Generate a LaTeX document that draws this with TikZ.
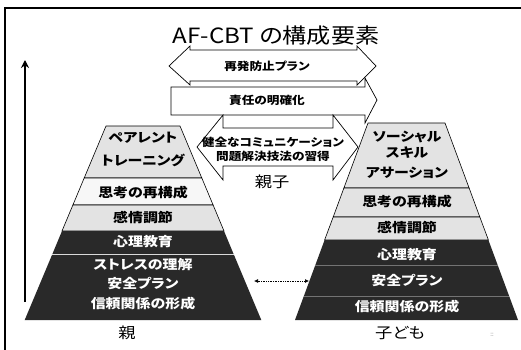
\documentclass[tikz,border=0pt]{standalone}
\usepackage{fontspec}
\setmainfont{Liberation Sans}
\newfontfamily\jp[FakeStretch=1.15,RawFeature={+palt}]{Noto Sans CJK JP}
\usetikzlibrary{arrows.meta}
\begin{document}
\begin{tikzpicture}[x=1pt,y=-1pt,
  frameline/.style={line width=1.2pt},
  arrowshape/.style={draw, fill=white, line width=0.7pt, line join=miter},
  lightlayer/.style={draw, fill=black!11, line width=0.6pt},
  palelayer/.style={draw, fill=black!3, line width=0.6pt},
  darklayer/.style={fill=black!84},
  ptext/.style={font=\jp\bfseries\fontsize{13}{14}\selectfont, text=black, inner sep=0pt},
  pdark/.style={ptext, text=white},
  atext/.style={font=\jp\bfseries\fontsize{11}{12}\selectfont, inner sep=0pt},
  labeltext/.style={font=\jp\fontsize{15}{16}\selectfont, inner sep=0pt}
]
\useasboundingbox (0,0) rectangle (521,350);
\fill[white] (0,0) rectangle (521,350);
% frame
\draw[frameline] (521,8) -- (5,8) -- (5,350);
% vertical arrow
\coordinate (vb) at (25,302);
\coordinate (vt) at (25,60);
\draw[line width=1.8pt, -{Stealth[length=8pt,width=8pt]}] (vb) -- (vt);
% title
\node[font=\jp\fontsize{21}{24}\selectfont, inner sep=0pt] (title) at (276,36) {AF-CBT の構成要素};
% arrows
\draw[arrowshape] (169,66) -- (190,46) -- (190,50) -- (357,50) -- (357,46) -- (376,66) -- (357,85) -- (357,81) -- (190,81) -- (190,85) -- cycle;
\draw[arrowshape] (171,87) -- (365,87) -- (365,78) -- (377,100) -- (365,123) -- (365,115) -- (171,115) -- cycle;
\draw[arrowshape] (197,147) -- (223,115) -- (223,128) -- (333,128) -- (333,115) -- (358,147) -- (333,180) -- (333,166) -- (223,166) -- (223,180) -- cycle;
\node[atext] (t1) at (267,66) {再発防止プラン};
\node[atext] (t2) at (267,100) {責任の明確化};
\node[atext] (t3) at (273,142) {健全なコミュニケーション};
\node[atext] (t4) at (273,156) {問題解決技法の習得};
\node[labeltext] (t5) at (272,182) {親子};
% left pyramid
\filldraw[lightlayer] (106,126) -- (180,126) -- (201.8,178) -- (84.2,178) -- cycle;
\filldraw[palelayer] (84.2,178) -- (201.8,178) -- (213.1,205) -- (72.9,205) -- cycle;
\filldraw[lightlayer] (72.9,205) -- (213.1,205) -- (224,231) -- (62,231) -- cycle;
\fill[darklayer] (62,231) -- (224,231) -- (233.6,254) -- (52.4,254) -- cycle;
\fill[darklayer] (52.4,254) -- (233.6,254) -- (261.3,320) -- (24.7,320) -- cycle;
\draw[black!15, line width=0.8pt] (52.4,254) -- (233.6,254);
\node[ptext] (l1) at (143,138) {ペアレント};
\node[ptext] (l2) at (143,160) {トレーニング};
\node[ptext] (l3) at (143,193) {思考の再構成};
\node[ptext] (l4) at (143,218) {感情調節};
\node[pdark] (l5) at (143,242) {心理教育};
\node[pdark] (l6) at (143,265) {ストレスの理解};
\node[pdark] (l7) at (143,283) {安全プラン};
\node[pdark] (l8) at (143,304) {信頼関係の形成};
% right pyramid
\filldraw[lightlayer] (368,123) -- (445,123) -- (469.1,188) -- (343.9,188) -- cycle;
\filldraw[lightlayer] (343.9,188) -- (469.1,188) -- (479.8,217) -- (333.2,217) -- cycle;
\filldraw[lightlayer] (333.2,217) -- (479.8,217) -- (488.4,240) -- (324.6,240) -- cycle;
\fill[darklayer] (324.6,240) -- (488.4,240) -- (518,320) -- (295,320) -- cycle;
\draw[black!55, line width=0.6pt] (315.4,265) -- (497.6,265);
\draw[black!55, line width=0.6pt] (303.9,296) -- (509.1,296);
\node[ptext] (r1) at (407,137) {ソーシャル};
\node[ptext] (r2) at (407,153) {スキル};
\node[ptext] (r3) at (407,173) {アサーション};
\node[ptext] (r4) at (407,202) {思考の再構成};
\node[ptext] (r5) at (407,228) {感情調節};
\node[pdark] (r6) at (407,255) {心理教育};
\node[pdark] (r7) at (407,280) {安全プラン};
\node[pdark] (r8) at (407,307) {信頼関係の形成};
% dotted link
\coordinate (dl) at (254,281);
\coordinate (dr) at (309,281);
\draw[densely dotted, line width=0.7pt, {Latex[length=4pt,width=4pt]}-{Latex[length=4pt,width=4pt]}] (dl) -- (dr);
% bottom labels
\node[labeltext] (oya) at (127,333) {親};
\node[labeltext] (ko) at (400,333) {子ども};
\node[font=\fontsize{6}{6}\selectfont, text=black!60, inner sep=0pt] (mark) at (492,335) {::};
\end{tikzpicture}
\end{document}
